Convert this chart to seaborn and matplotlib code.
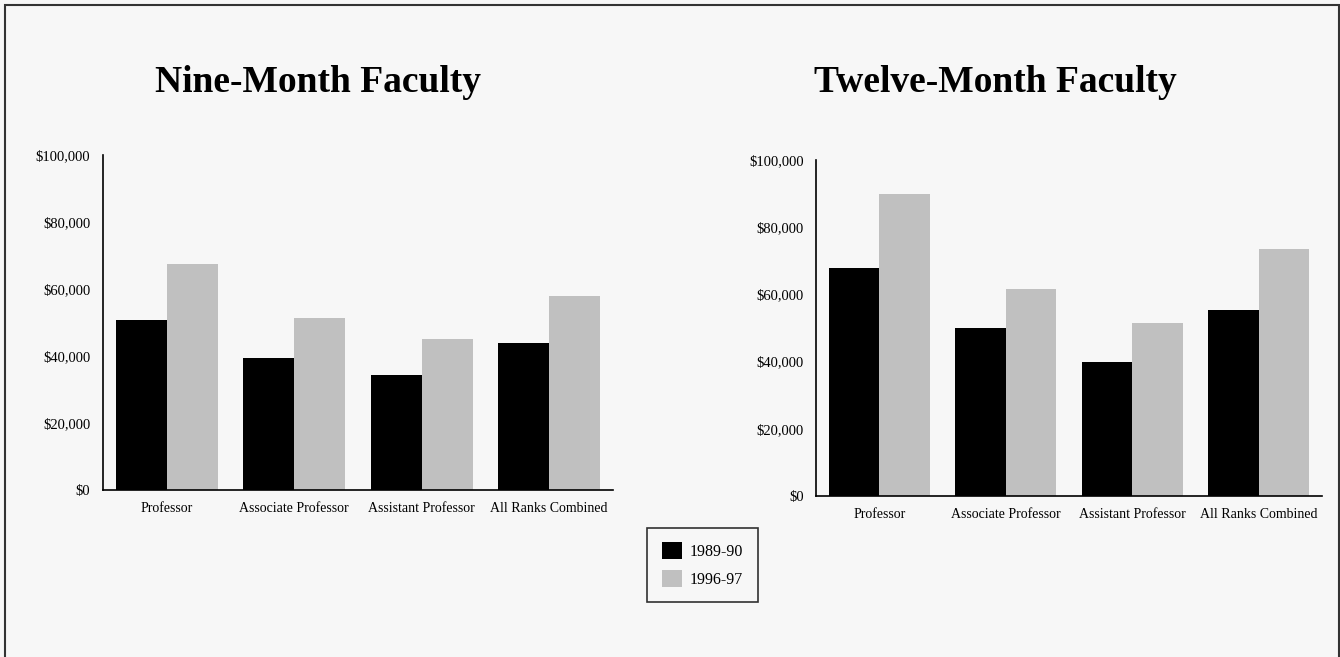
import matplotlib
matplotlib.use("Agg")
import matplotlib.pyplot as plt
import matplotlib.patches as mpatches
from matplotlib.ticker import FuncFormatter
import pandas as pd
import seaborn as sns

# data
ranks = ["Professor", "Associate Professor", "Assistant Professor", "All Ranks Combined"]
years = ["1989-90", "1996-97"]
nine_1989 = [50700, 39300, 34400, 44000]
nine_1996 = [67400, 51200, 45100, 57800]
twelve_1989 = [68000, 49900, 39800, 55400]
twelve_1996 = [90000, 61700, 51600, 73500]

colors = ["#000000", "#c0c0c0"]
bg = "#f7f7f7"

sns.set_style("white")
plt.rcParams["font.family"] = ["Liberation Serif", "DejaVu Serif"]
plt.rcParams["text.color"] = "black"


def make_df(a, b):
    df = pd.DataFrame({"rank": ranks * 2,
                       "year": [years[0]] * 4 + [years[1]] * 4,
                       "salary": a + b})
    return df


fig = plt.figure(figsize=(13.4, 6.57), dpi=100, facecolor=bg)

# outer frame
fig.patches.append(mpatches.Rectangle((5 / 1340, -0.01), 1334 / 1340, 1 - 5 / 657 + 0.01,
                                      transform=fig.transFigure, fill=False,
                                      edgecolor="#333333", linewidth=1.5))

ax1 = fig.add_axes([103 / 1340, 1 - 490 / 657, 510 / 1340, 335 / 657])
ax2 = fig.add_axes([816 / 1340, 1 - 496 / 657, 506 / 1340, 336 / 657])

money = FuncFormatter(lambda v, p: "${:,.0f}".format(v))

for ax, a, b in [(ax1, nine_1989, nine_1996), (ax2, twelve_1989, twelve_1996)]:
    sns.barplot(data=make_df(a, b), x="rank", y="salary", hue="year",
                palette=colors, saturation=1, width=0.8, ax=ax, legend=False,
                linewidth=0, edgecolor="none")
    ax.set_facecolor(bg)
    ax.set_ylim(0, 100000)
    ax.set_xlim(-0.5, 3.5)
    ax.set_yticks(range(0, 100001, 20000))
    ax.yaxis.set_major_formatter(money)
    ax.set_xlabel("")
    ax.set_ylabel("")
    ax.tick_params(axis="both", length=0, labelsize=10.5, colors="black")
    ax.tick_params(axis="y", pad=9)
    ax.tick_params(axis="x", pad=9, labelsize=10)
    sns.despine(ax=ax)
    for s in ["left", "bottom"]:
        ax.spines[s].set_color("black")
        ax.spines[s].set_linewidth(1.2)

fig.text(318 / 1340, 1 - 82 / 657, "Nine-Month Faculty", ha="center", va="center",
         fontsize=27, fontweight="bold", color="black")
fig.text(995 / 1340, 1 - 82 / 657, "Twelve-Month Faculty", ha="center", va="center",
         fontsize=27, fontweight="bold", color="black")

handles = [mpatches.Patch(facecolor=c, edgecolor="none", label=y) for c, y in zip(colors, years)]
leg = fig.legend(handles=handles, loc="center", bbox_to_anchor=(702.5 / 1340, 1 - 565 / 657),
                 fontsize=11.5, frameon=True, fancybox=False, handlelength=1.25,
                 handleheight=1.25, handletextpad=0.5, borderpad=0.9, labelspacing=0.65,
                 borderaxespad=0, labelcolor="black")
leg.get_frame().set_edgecolor("black")
leg.get_frame().set_facecolor(bg)
leg.get_frame().set_linewidth(1.2)

fig.savefig("out.png", dpi=100, facecolor=bg)
